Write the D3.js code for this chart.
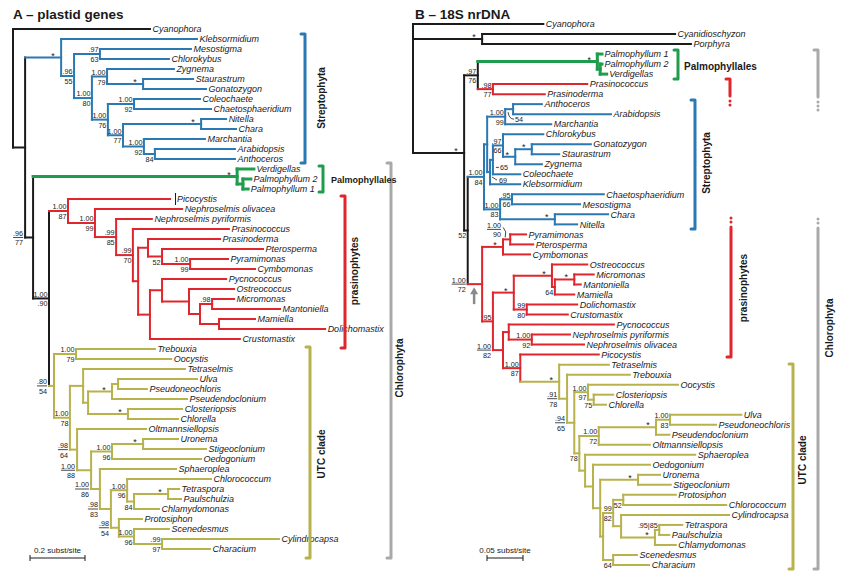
<!DOCTYPE html>
<html><head><meta charset="utf-8">
<script src="https://cdn.jsdelivr.net/npm/d3@7/dist/d3.min.js"></script>
<style>
body{margin:0;background:#fff;}
text{font-family:"Liberation Sans",Arial,sans-serif;}
</style></head><body>
<svg id="chart" width="847" height="580"></svg>
<script>
// ---------------- DATA: panel A (plastid genes) ----------------
const leavesA = ["Cyanophora","Klebsormidium","Mesostigma","Chlorokybus","Zygnema","Staurastrum","Gonatozygon",
 "Coleochaete","Chaetosphaeridium","Nitella","Chara","Marchantia","Arabidopsis","Anthoceros",
 "Verdigellas","Palmophyllum 2","Palmophyllum 1","Picocystis","Nephroselmis olivacea","Nephroselmis pyriformis",
 "Prasinococcus","Prasinoderma","Pterosperma","Pyramimonas","Cymbomonas","Pycnococcus","Ostreococcus","Micromonas",
 "Mantoniella","Mamiella","Dolichomastix","Crustomastix","Trebouxia","Oocystis","Tetraselmis","Ulva","Pseudoneochloris",
 "Pseudendoclonium","Closteriopsis","Chlorella","Oltmannsiellopsis","Uronema","Stigeoclonium","Oedogonium","Sphaeroplea",
 "Chlorococcum","Tetraspora","Paulschulzia","Chlamydomonas","Protosiphon","Scenedesmus","Cylindrocapsa","Characium"];
// [node, parent, depth (subst/site), clade]
const nodesA = [
 ["root",null,0,"o"],["Cyanophora","root",0.498,"o"],["X","root",0.044,"o"],
 ["S0","X",0.175,"s"],["Klebsormidium","S0",0.669,"s"],["S1","S0",0.222,"s"],["S2","S1",0.316,"s"],
 ["Mesostigma","S2",0.647,"s"],["Chlorokybus","S2",0.567,"s"],["S3","S1",0.287,"s"],["S4","S3",0.342,"s"],
 ["Zygnema","S4",0.585,"s"],["S6","S4",0.473,"s"],["Staurastrum","S6",0.655,"s"],["Gonatozygon","S6",0.702,"s"],
 ["S5","S3",0.345,"s"],["S7","S5",0.44,"s"],["Coleochaete","S7",0.68,"s"],["Chaetosphaeridium","S7",0.72,"s"],
 ["S8","S5",0.4,"s"],["S9","S8",0.684,"s"],["Nitella","S9",0.775,"s"],["Chara","S9",0.811,"s"],
 ["S10","S8",0.476,"s"],["Marchantia","S10",0.698,"s"],["S11","S10",0.516,"s"],["Arabidopsis","S11",0.807,"s"],["Anthoceros","S11",0.807,"s"],
 ["Y","X",0.073,"o"],["G0","Y",0.815,"g"],["Verdigellas","G0",0.876,"g"],["G1","G0",0.836,"g"],
 ["Palmophyllum 2","G1",0.865,"g"],["Palmophyllum 1","G1",0.855,"g"],
 ["Z","Y",0.131,"o"],["P0","Z",0.2,"p"],["Picocystis","P0",0.571,"p"],["P1","P0",0.298,"p"],
 ["Nephroselmis olivacea","P1",0.615,"p"],["P2","P1",0.375,"p"],["Nephroselmis pyriformis","P2",0.505,"p"],
 ["P3","P2",0.436,"p"],["Prasinococcus","P3",0.785,"p"],["P4","P3",0.455,"p"],["P5","P4",0.491,"p"],
 ["Prasinoderma","P5",0.753,"p"],["P7","P5",0.542,"p"],["Pterosperma","P7",0.909,"p"],["P8","P7",0.644,"p"],
 ["Pyramimonas","P8",0.782,"p"],["Cymbomonas","P8",0.88,"p"],["P6","P4",0.498,"p"],["P9","P6",0.542,"p"],
 ["Pycnococcus","P9",0.775,"p"],["P10","P9",0.64,"p"],["Ostreococcus","P10",0.804,"p"],["P11","P10",0.68,"p"],
 ["P12","P11",0.724,"p"],["Micromonas","P12",0.804,"p"],["Mantoniella","P12",0.971,"p"],["P13","P11",0.749,"p"],
 ["Mamiella","P13",0.88,"p"],["Dolichomastix","P13",1.135,"p"],["Crustomastix","P6",0.825,"p"],
 ["U0","Z",0.149,"u"],["U1","U0",0.229,"u"],["Trebouxia","U1",0.516,"u"],["Oocystis","U1",0.575,"u"],
 ["U2","U0",0.207,"u"],["U3","U2",0.255,"u"],["Tetraselmis","U3",0.625,"u"],["U5","U3",0.273,"u"],
 ["U6","U5",0.36,"u"],["U8","U6",0.382,"u"],["Ulva","U8",0.669,"u"],["Pseudoneochloris","U8",0.487,"u"],
 ["Pseudendoclonium","U6",0.633,"u"],["U7","U5",0.418,"u"],["Closteriopsis","U7",0.615,"u"],["Chlorella","U7",0.6,"u"],
 ["U4","U2",0.233,"u"],["Oltmannsiellopsis","U4",0.484,"u"],["U9","U4",0.284,"u"],["V1","U9",0.36,"u"],
 ["V2","V1",0.473,"u"],["Uronema","V2",0.6,"u"],["Stigeoclonium","V2",0.702,"u"],["Oedogonium","V1",0.684,"u"],
 ["U10","U9",0.316,"u"],["Sphaeroplea","U10",0.593,"u"],["V4","U10",0.356,"u"],["V5","V4",0.415,"u"],
 ["Chlorococcum","V5",0.72,"u"],["V6","V5",0.44,"u"],["V7","V6",0.564,"u"],["Tetraspora","V7",0.604,"u"],
 ["Paulschulzia","V7",0.611,"u"],["Chlamydomonas","V6",0.531,"u"],["V8","V4",0.385,"u"],["Protosiphon","V8",0.469,"u"],
 ["V9","V8",0.44,"u"],["Scenedesmus","V9",0.567,"u"],["V10","V9",0.542,"u"],["Cylindrocapsa","V10",0.967,"u"],["Characium","V10",0.716,"u"]
];
// [node, posterior (top), bootstrap (bottom)]
const supportA = [
 ["S0","*",""],["S1",".96","55"],["S2",".97","63"],["S3","1.00","80"],["S4","1.00","79"],["S6","*",""],
 ["S5","1.00","76"],["S7","1.00","92"],["S8","1.00","77"],["S9","*",""],["S10","1.00","92"],["S11","","84"],
 ["Y",".96","77"],["G0","*",""],["Z","1.00",".90"],["P0","1.00","87"],["P1","1.00","99"],["P2",".99","85"],
 ["P3",".99","70"],["P7","","52"],["P8","1.00","99"],["P12",".98",""],["U0",".80","54"],["U1","1.00","79"],
 ["U2","1.00","78"],["U6","*",""],["U7","*",""],["U4",".98","64"],["U9","1.00","88"],["V1","1.00","96"],
 ["V2","*",""],["U10","1.00","86"],["V4",".98","83"],["V5","1.00","96"],["V6","","84"],["V7","*",""],
 ["V8",".98","54"],["V9","1.00","96"],["V10",".99","97"]
];
// ---------------- DATA: panel B (18S nrDNA) ----------------
const leavesB = ["Cyanophora","Cyanidioschyzon","Porphyra","Palmophyllum 1","Palmophyllum 2","Verdigellas","Prasinococcus",
 "Prasinoderma","Anthoceros","Arabidopsis","Marchantia","Chlorokybus","Gonatozygon","Staurastrum","Zygnema","Coleochaete",
 "Klebsormidium","Chaetosphaeridium","Mesostigma","Chara","Nitella","Pyramimonas","Pterosperma","Cymbomonas","Ostreococcus",
 "Micromonas","Mantoniella","Mamiella","Dolichomastix","Crustomastix","Pycnococcus","Nephroselmis pyriformis",
 "Nephroselmis olivacea","Picocystis","Tetraselmis","Trebouxia","Oocystis","Closteriopsis","Chlorella","Ulva",
 "Pseudoneochloris","Pseudendoclonium","Oltmannsiellopsis","Sphaeroplea","Oedogonium","Uronema","Stigeoclonium",
 "Protosiphon","Chlorococcum","Cylindrocapsa","Tetraspora","Paulschulzia","Chlamydomonas","Scenedesmus","Characium"];
const nodesB = [
 ["root",null,0,"o"],["Cyanophora","root",0.181,"o"],["RA","root",0.096,"o"],["Cyanidioschyzon","RA",0.364,"o"],
 ["Porphyra","RA",0.386,"o"],["I0","root",0.071,"o"],["I1","I0",0.09,"o"],["G0","I1",0.256,"g"],
 ["Palmophyllum 1","G0",0.2625,"g"],["G1","G0",0.26,"g"],["Palmophyllum 2","G1",0.2625,"g"],["Verdigellas","G1",0.269,"g"],
 ["R0","I1",0.111,"p"],["Prasinococcus","R0",0.242,"p"],["Prasinoderma","R0",0.183,"p"],
 ["I2","I0",0.076,"o"],["St0","I2",0.0986,"s"],["L0","St0",0.103,"s"],["L1","L0",0.128,"s"],["L2","L1",0.139,"s"],
 ["Anthoceros","L2",0.179,"s"],["Arabidopsis","L2",0.275,"s"],["Marchantia","L1",0.192,"s"],["C3","L0",0.107,"s"],
 ["C2","C3",0.111,"s"],["C1","C2",0.125,"s"],["Chlorokybus","C1",0.181,"s"],["Z0","C1",0.142,"s"],["Z1","Z0",0.165,"s"],
 ["Gonatozygon","Z1",0.247,"s"],["Staurastrum","Z1",0.203,"s"],["Zygnema","Z0",0.179,"s"],["Coleochaete","C2",0.149,"s"],
 ["Klebsormidium","C3",0.149,"s"],["St2","St0",0.121,"s"],["St3","St2",0.1375,"s"],["Chaetosphaeridium","St3",0.265,"s"],
 ["Mesostigma","St3",0.232,"s"],["St4","St2",0.197,"s"],["Chara","St4",0.271,"s"],["Nitella","St4",0.228,"s"],
 ["C0","I2",0.096,"p"],["Pr1","C0",0.125,"p"],["Pr2","Pr1",0.135,"p"],["Pyramimonas","Pr2",0.157,"p"],
 ["Pterosperma","Pr2",0.167,"p"],["Cymbomonas","Pr1",0.1625,"p"],["C1p","C0",0.111,"p"],["M0","C1p",0.14,"p"],
 ["M1","M0",0.193,"p"],["Ostreococcus","M1",0.242,"p"],["M4","M1",0.197,"p"],["M3","M4",0.224,"p"],
 ["Micromonas","M3",0.251,"p"],["Mantoniella","M3",0.233,"p"],["Mamiella","M4",0.224,"p"],["M2","M0",0.158,"p"],
 ["Dolichomastix","M2",0.228,"p"],["Crustomastix","M2",0.215,"p"],["N0","C1p",0.125,"p"],["N1","N0",0.133,"p"],
 ["Pycnococcus","N1",0.279,"p"],["N3","N1",0.165,"p"],["Nephroselmis pyriformis","N3",0.218,"p"],
 ["Nephroselmis olivacea","N3",0.2375,"p"],["N2","N0",0.149,"p"],["Picocystis","N2",0.258,"p"],
 ["U0","N2",0.203,"u"],["Tetraselmis","U0",0.272,"u"],["U1","U0",0.214,"u"],["Trebouxia","U1",0.301,"u"],
 ["U2","U1",0.224,"u"],["U3","U2",0.243,"u"],["Oocystis","U3",0.368,"u"],["U5","U3",0.251,"u"],
 ["Closteriopsis","U5",0.278,"u"],["Chlorella","U5",0.268,"u"],["U4","U2",0.231,"u"],["U6","U4",0.258,"u"],
 ["U8","U6",0.3375,"u"],["U9","U8",0.357,"u"],["Ulva","U9",0.456,"u"],["Pseudoneochloris","U9",0.421,"u"],
 ["Pseudendoclonium","U8",0.356,"u"],["Oltmannsiellopsis","U6",0.329,"u"],["U7","U4",0.239,"u"],
 ["Sphaeroplea","U7",0.392,"u"],["U10","U7",0.25,"u"],["Oedogonium","U10",0.329,"u"],["U11","U10",0.26,"u"],
 ["U14","U11",0.3125,"u"],["Uronema","U14",0.343,"u"],["Stigeoclonium","U14",0.358,"u"],["U12","U11",0.264,"u"],
 ["Q0","U12",0.278,"u"],["QP","Q0",0.292,"u"],["Protosiphon","QP",0.365,"u"],["Chlorococcum","QP",0.435,"u"],
 ["Q1","Q0",0.289,"u"],["Cylindrocapsa","Q1",0.439,"u"],["T0","Q1",0.336,"u"],["T1","T0",0.342,"u"],
 ["Tetraspora","T1",0.374,"u"],["Paulschulzia","T1",0.356,"u"],["Chlamydomonas","T0",0.365,"u"],
 ["SC","U12",0.278,"u"],["Scenedesmus","SC",0.311,"u"],["Characium","SC",0.328,"u"]
];
const supportB = [
 ["RA","*",""],["I0","*",""],["I1",".97","76"],["G0","*",""],["R0",".98","77"],["I2","","52"],["St0","1.00","84"],
 ["L1","1.00","99"],["L2","","54"],["C1",".97","66"],["Z0","*",""],["Z1","*",""],["C2","","65"],["C3","","69"],
 ["St2","1.00","83"],["St3",".95","66"],["St4","*",""],["C0","1.00","72"],["Pr1","*",""],["Pr2","1.00","90"],
 ["C1p","95",""],["M0","*",""],["M1","*",""],["M3","*",""],["M4","","64"],["M2","99","80"],["N0","1.00","82"],
 ["N3","1.00","92"],["N2","1.00","87"],["U0","*",""],["U1",".91","78"],["U2",".94","65"],["U3","1.00","97"],
 ["U5","","75"],["U4","","78"],["U6","1.00","72"],["U8","*",""],["U9","1.00","83"],["U14","*",""],
 ["Q0","99","82"],["QP","","52"],["T1",".95|85",""],["T0","*",""],["SC","","64"]
];
const titles = ["A \u2013 plastid genes","B \u2013 18S nrDNA"];
const scaleLabels = ["0.2 subst/site","0.05 subst/site"];
const scaleValues = [0.2, 0.05];

// ---------------- LAYOUT / STYLE ----------------
const COL = {o:"#1b1b1b", s:"#2a79b3", g:"#1e9e4d", p:"#e0262c", u:"#b8b24c", gray:"#a9a9a9"};
const svg = d3.select("#chart");
const xA = d3.scaleLinear().domain([0,1]).range([13,288]);
const yA = d3.scalePoint().domain(leavesA).range([29,549]);
const xB = d3.scaleLinear().domain([0,1]).range([413,1133]);
const yB = d3.scalePoint().domain(leavesB).range([24,565]);

function build(nodes, xs, ys){
  const map = new Map();
  nodes.forEach(([id,parent,depth,clade]) => map.set(id,{id,parent,depth,clade,children:[]}));
  map.forEach(n => { if(n.parent!==null) map.get(n.parent).children.push(n); });
  const root = [...map.values()].find(n => n.parent===null);
  (function setY(n){
    n.x = xs(n.depth);
    if(!n.children.length){ n.y = ys(n.id); return; }
    n.children.forEach(setY);
    const yy = n.children.map(c => c.y);
    n.y0 = d3.min(yy); n.y1 = d3.max(yy); n.y = (n.y0+n.y1)/2;
  })(root);
  return map;
}
function drawTree(g, map, textShift){
  const lw = c => c==="g" ? 3 : 2;
  map.forEach(n => {
    if(n.children.length){
      g.append("line").attr("x1",n.x).attr("x2",n.x).attr("y1",n.y0).attr("y2",n.y1)
       .attr("stroke",COL[n.clade]).attr("stroke-width",lw(n.clade)).attr("stroke-linecap","square");
    }
  });
  map.forEach(n => {
    if(n.parent!==null){
      const p = map.get(n.parent);
      g.append("line").attr("x1",p.x).attr("x2",n.x).attr("y1",n.y).attr("y2",n.y)
       .attr("stroke",COL[n.clade]).attr("stroke-width",lw(n.clade)).attr("stroke-linecap","square");
    }
    if(!n.children.length){
      g.append("text").attr("x",n.x+2.5+((textShift||{})[n.id]||0)).attr("y",n.y+3.2).attr("font-size",9).attr("font-style","italic")
       .attr("fill","#1a1a1a").text(n.id);
    }
  });
}
function drawSupport(g, map, support, parentSide, leaders, raised){
  raised = raised || {};
  support.forEach(([id,top,bot]) => {
    const n = map.get(id);
    if(top==="*"){
      g.append("text").attr("x",n.x-8).attr("y",n.y+1).attr("text-anchor","middle")
       .attr("font-size",9).attr("fill","#1a1a1a").text("*");
      return;
    }
    if(leaders[id]){
      const L = leaders[id];
      g.append("text").attr("x",n.x+L.dx).attr("y",n.y+L.dy).attr("font-size",7.2).attr("fill","#1a1a1a").text(bot||top);
      g.append("path").attr("d",L.path(n.x,n.y)).attr("fill","none").attr("stroke","#1a1a1a").attr("stroke-width",0.8);
      return;
    }
    const side = parentSide.has(id);
    const rx = side ? map.get(n.parent).x - 2 : n.x - 1.5;
    const yy = n.y - (raised[id]||0);
    let w = 0;
    if(top){ const t = g.append("text").attr("x",rx).attr("y",yy-1.6).attr("text-anchor","end")
       .attr("font-size",7.2).attr("fill","#1a1a1a").text(top); w = Math.max(w,t.node().getComputedTextLength()); }
    if(bot){ const t = g.append("text").attr("x",rx).attr("y",yy+8).attr("text-anchor","end")
       .attr("font-size",7.2).attr("fill","#1a1a1a").text(bot); w = Math.max(w,t.node().getComputedTextLength()); }
    if(side && top && bot){
      g.append("line").attr("x1",rx-w).attr("x2",rx).attr("y1",yy).attr("y2",yy)
       .attr("stroke","#1a1a1a").attr("stroke-width",0.8);
    }
  });
}
function bracket(g, b){
  const c = COL[b.c];
  let d = (b.hookTop!==false ? `M${b.x-4},${b.y1}H${b.x}` : `M${b.x},${b.y1}`) + `V${b.y2}` + (b.hookBot!==false ? `H${b.x-4}` : "");
  g.append("path").attr("d",d).attr("fill","none").attr("stroke",c).attr("stroke-width",3)
   .attr("stroke-linecap","round").attr("stroke-linejoin","round");
  (b.dots||[]).forEach(y => g.append("circle").attr("cx",b.x).attr("cy",y).attr("r",1.5).attr("fill",c));
  if(b.label){
    const t = g.append("text").attr("font-size",b.fs||10).attr("font-weight","bold").attr("fill","#1a1a1a").text(b.label);
    if(b.rot) t.attr("transform",`translate(${b.tx},${b.ty}) rotate(-90)`).attr("text-anchor","middle");
    else t.attr("x",b.tx).attr("y",b.ty);
  }
}
function scaleBar(g, xs, v, x0, y, label){
  const len = xs(v) - xs(0);
  g.append("path").attr("d",`M${x0},${y-3}V${y+3}M${x0},${y}H${x0+len}M${x0+len},${y-3}V${y+3}`)
   .attr("fill","none").attr("stroke","#1a1a1a").attr("stroke-width",1);
  g.append("text").attr("x",x0+len/2).attr("y",y-5).attr("text-anchor","middle").attr("font-size",8).attr("fill","#1a1a1a").text(label);
}

// ---------------- PANEL A ----------------
const gA = svg.append("g");
const tA = build(nodesA, xA, yA);
drawTree(gA, tA, {"Picocystis":4.5});
drawSupport(gA, tA, supportA, new Set(["Y","U0","U4","U9","U10","V4","V8"]), {});
{ const pc = tA.get("Picocystis");
  gA.append("line").attr("x1",pc.x+5.5).attr("x2",pc.x+5.5).attr("y1",pc.y-6).attr("y2",pc.y+6).attr("stroke","#1a1a1a").attr("stroke-width",1); }
gA.append("text").attr("x",13).attr("y",19).attr("font-size",13.5).attr("font-weight","bold").attr("fill","#1a1a1a").text(titles[0]);
[
 {label:"Chlorophyta",c:"gray",x:391,y1:163,y2:558,tx:403,ty:368,rot:true},
 {label:"Streptophyta",c:"s",x:305,y1:34,y2:163,tx:325,ty:98,rot:true},
 {label:"Palmophyllales",c:"g",x:323,y1:166,y2:192,tx:331,ty:183,fs:9},
 {label:"prasinophytes",c:"p",x:345,y1:196,y2:348,tx:358,ty:271,rot:true},
 {label:"UTC clade",c:"u",x:310,y1:347,y2:558,tx:325,ty:454,rot:true}
].forEach(b => bracket(gA,b));
scaleBar(gA, xA, scaleValues[0], 30, 558, scaleLabels[0]);

// ---------------- PANEL B ----------------
const gB = svg.append("g");
const tB = build(nodesB, xB, yB);
drawTree(gB, tB);
drawSupport(gB, tB, supportB, new Set(["C0","N0","U1","U2","Pr2"]), {
  L2:{dx:2,dy:13,path:(x,y)=>`M${x-5},${y+3}Q${x-4},${y+10} ${x+1},${y+10}`},
  C2:{dx:7,dy:10.5,path:(x,y)=>`M${x+3},${y+7.5}H${x+6}`},
  C3:{dx:9,dy:11,path:(x,y)=>`M${x+2},${y+5}L${x+7},${y+8}`}
}, {Pr2:10});
{ const p2 = tB.get("Pr2");
  gB.append("path").attr("d",`M${p2.x-7},${p2.y-12}Q${p2.x-3},${p2.y-8} ${p2.x-5},${p2.y-2}`).attr("fill","none").attr("stroke","#1a1a1a").attr("stroke-width",0.8);
  const c0 = tB.get("C0");
  gB.append("path").attr("d",`M${c0.x-8},${c0.y+20}V${c0.y+6}`).attr("stroke","#8a8a8a").attr("stroke-width",2.5);
  gB.append("path").attr("d",`M${c0.x-12},${c0.y+10}L${c0.x-8},${c0.y+3}L${c0.x-4},${c0.y+10}Z`).attr("fill","#8a8a8a"); }
gB.append("text").attr("x",415).attr("y",19).attr("font-size",13.5).attr("font-weight","bold").attr("fill","#1a1a1a").text(titles[1]);
[
 {label:"Palmophyllales",c:"g",x:678,y1:50,y2:79,tx:684,ty:70},
 {c:"p",x:730,y1:79,y2:96,hookBot:false,dots:[101,105]},
 {c:"gray",x:818,y1:50,y2:97,hookBot:false,dots:[102,106,110]},
 {label:"Streptophyta",c:"s",x:695,y1:100,y2:229,tx:710,ty:163,rot:true},
 {label:"prasinophytes",c:"p",x:731,y1:227,y2:357,hookTop:false,dots:[218,222],tx:747,ty:288,rot:true},
 {label:"Chlorophyta",c:"gray",x:818,y1:228,y2:569,hookTop:false,dots:[219,223],tx:833,ty:328,rot:true},
 {label:"UTC clade",c:"u",x:793,y1:364,y2:569,tx:806,ty:460,rot:true}
].forEach(b => bracket(gB,b));
scaleBar(gB, xB, scaleValues[1], 487, 558, scaleLabels[1]);
</script>
</body></html>
